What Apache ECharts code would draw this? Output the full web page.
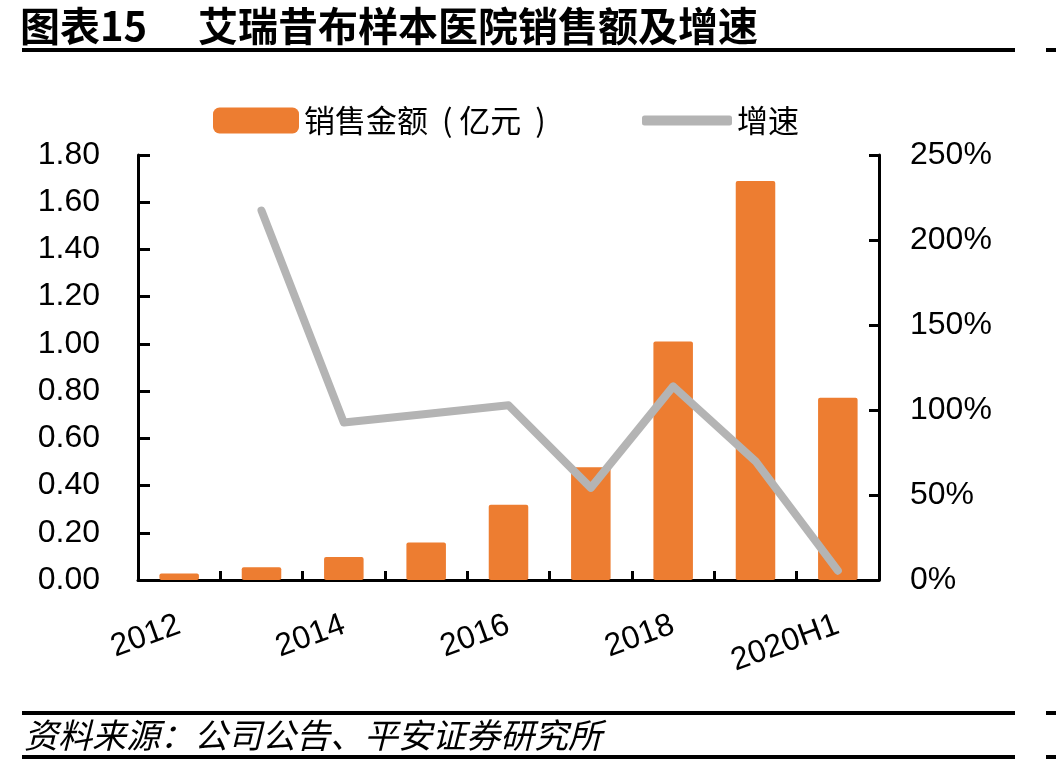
<!DOCTYPE html>
<html>
<head>
<meta charset="utf-8">
<script src="https://cdn.jsdelivr.net/npm/echarts@6/dist/echarts.min.js"></script>
<style>
  html, body { margin: 0; padding: 0; background: #fff; }
  #chart { width: 1056px; height: 771px; }
</style>
</head>
<body>
<div id="chart"></div>
<script>
// 数据
var years = ['2012', '2013', '2014', '2015', '2016', '2017', '2018', '2019', '2020H1'];
var sales = [0.028, 0.054, 0.097, 0.159, 0.319, 0.478, 1.01, 1.69, 0.772];   // 销售金额（亿元）
var growth = [null, 217.3, 92.6, 97.7, 102.8, 54.2, 113.9, 69.9, 5.5];      // 增速 %
var leftTicks = { min: 0, max: 1.8, step: 0.2 };
var rightTicks = { min: 0, max: 250, step: 50 };

var ORANGE = '#ED7D31';
var GREY = '#B4B4B4';
var FONT = 'Liberation Sans, Arial, Noto Sans CJK SC, sans-serif';
var CJK = 'Noto Sans CJK SC, sans-serif';

var chart = echarts.init(document.getElementById('chart'));

function hline(x1, x2, y) {
  return {
    type: 'line',
    shape: { x1: x1, y1: y, x2: x2, y2: y },
    style: { stroke: '#000', lineWidth: 4 }
  };
}

var option = {
  animation: false,
  backgroundColor: '#fff',
  title: [
    {
      text: '图表15', left: 20, top: 6, padding: 0,
      textStyle: { fontSize: 40, fontWeight: 'bold', color: '#000', fontFamily: CJK }
    },
    {
      text: '艾瑞昔布样本医院销售额及增速', left: 198, top: 6, padding: 0,
      textStyle: { fontSize: 40, fontWeight: 'bold', color: '#000', fontFamily: CJK }
    },
    {
      text: '资料来源：公司公告、平安证券研究所', left: 24, top: 718, padding: 0,
      textStyle: { fontSize: 34, fontWeight: 'normal', fontStyle: 'italic', color: '#000', fontFamily: CJK }
    }
  ],
  graphic: [
    hline(22, 1015, 50), hline(1046, 1056, 50),
    hline(22, 1015, 713), hline(1046, 1056, 713),
    hline(22, 1015, 757), hline(1046, 1056, 757)
  ],
  legend: [
    {
      data: [{ name: '销售金额  ( 亿元  )', icon: 'roundRect' }],
      left: 213, top: 105, padding: 0,
      itemWidth: 86, itemHeight: 26,
      textStyle: { fontSize: 31, color: '#000', fontFamily: CJK }
    },
    {
      data: [{ name: '增速', icon: 'roundRect' }],
      left: 642, top: 105, padding: 0,
      itemWidth: 90, itemHeight: 10,
      textStyle: { fontSize: 31, color: '#000', fontFamily: CJK }
    }
  ],
  grid: { left: 138, right: 177, top: 155, bottom: 191, containLabel: false },
  xAxis: {
    type: 'category',
    data: years,
    boundaryGap: true,
    axisLine: { lineStyle: { color: '#000', width: 3 } },
    axisTick: { show: true, inside: true, length: 9, interval: 0, lineStyle: { color: '#000', width: 3 } },
    axisLabel: { interval: 1, rotate: 20, margin: 44, fontSize: 32, color: '#000', fontFamily: FONT }
  },
  yAxis: [
    {
      type: 'value',
      min: leftTicks.min, max: leftTicks.max, interval: leftTicks.step,
      position: 'left',
      axisLine: { show: true, lineStyle: { color: '#000', width: 3 } },
      axisTick: { show: true, inside: true, length: 12, lineStyle: { color: '#000', width: 3 } },
      splitLine: { show: false },
      axisLabel: {
        margin: 38, fontSize: 32, color: '#000', fontFamily: FONT,
        formatter: function (v) { return v.toFixed(2); }
      }
    },
    {
      type: 'value',
      min: rightTicks.min, max: rightTicks.max, interval: rightTicks.step,
      position: 'right',
      axisLine: { show: true, lineStyle: { color: '#000', width: 3 } },
      axisTick: { show: true, inside: true, length: 10, lineStyle: { color: '#000', width: 3 } },
      splitLine: { show: false },
      axisLabel: {
        margin: 31, fontSize: 32, color: '#000', fontFamily: FONT,
        formatter: '{value}%'
      }
    }
  ],
  series: [
    {
      name: '销售金额  ( 亿元  )',
      type: 'bar',
      data: sales,
      barWidth: '48%',
      color: ORANGE,
      itemStyle: { color: ORANGE, borderRadius: 2 }
    },
    {
      name: '增速',
      type: 'line',
      yAxisIndex: 1,
      data: growth,
      color: GREY,
      symbol: 'none',
      connectNulls: false,
      lineStyle: { color: GREY, width: 8, cap: 'round', join: 'round' },
      itemStyle: { color: GREY }
    }
  ]
};

chart.setOption(option);
</script>
</body>
</html>
